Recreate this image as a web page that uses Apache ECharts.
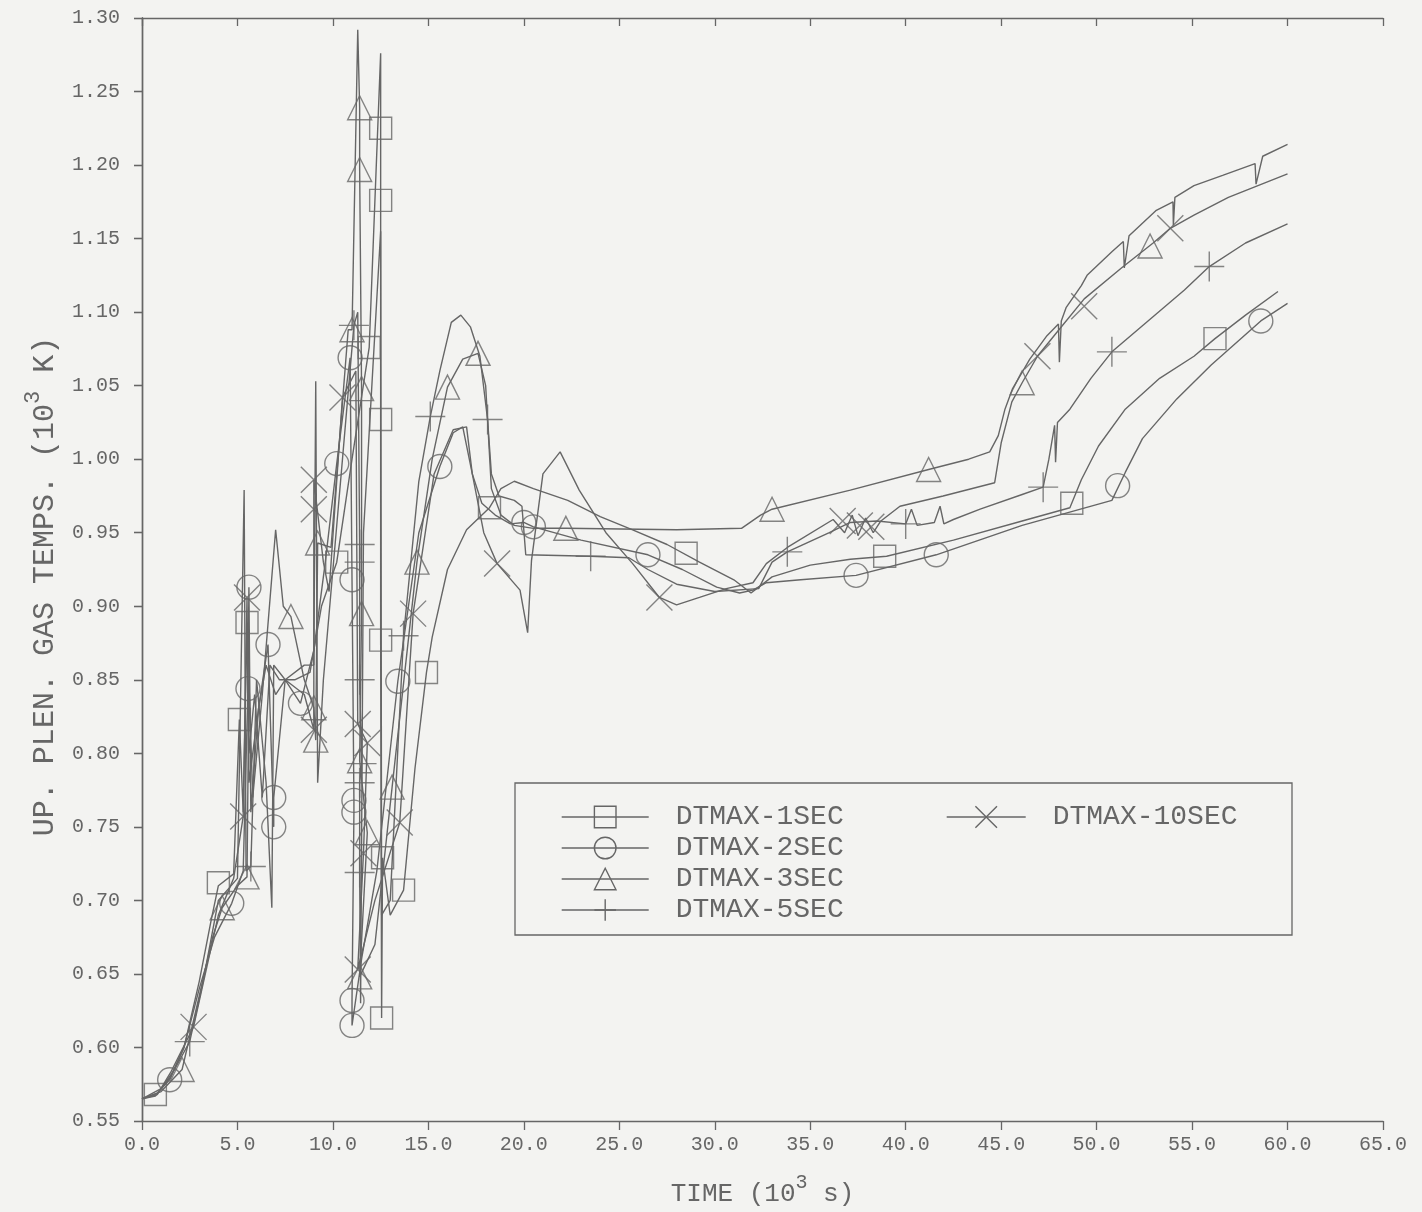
<!DOCTYPE html>
<html>
<head>
<meta charset="utf-8">
<script src="https://cdn.jsdelivr.net/npm/echarts@6/dist/echarts.min.js"></script>
<style>
  html, body { margin: 0; padding: 0; background: #f3f3f1; }
  #chart { width: 1422px; height: 1212px; }
</style>
</head>
<body>
<div id="chart"></div>
<script>
// Upper plenum gas temperature (10^3 K) versus time (10^3 s) for five DTMAX settings.
const seriesNames = ['DTMAX-1SEC', 'DTMAX-2SEC', 'DTMAX-3SEC', 'DTMAX-5SEC', 'DTMAX-10SEC'];

const xTicks = [0, 5, 10, 15, 20, 25, 30, 35, 40, 45, 50, 55, 60, 65];
const yTicks = [0.55, 0.60, 0.65, 0.70, 0.75, 0.80, 0.85, 0.90, 0.95, 1.00, 1.05, 1.10, 1.15, 1.20, 1.25, 1.30];

// DTMAX-1SEC
const line1s = [[0,0.565],[0.7,0.567],[1.5,0.58],[2.2,0.60],[3.0,0.645],[3.6,0.685],[4.0,0.71],[4.8,0.718],[5.1,0.823],[5.3,0.76],[5.5,0.889],[5.6,0.80],[5.9,0.84],[6.3,0.77],[6.7,0.86],[7.2,0.85],[8.0,0.85],[8.8,0.855],[9.4,0.90],[10.2,0.93],[11.0,1.0],[11.9,1.076],[12.5,1.276],[12.5,1.225],[12.5,1.176],[12.5,1.027],[12.5,0.877],[12.55,0.62],[12.6,0.729],[13.0,0.69],[13.7,0.707],[14.3,0.79],[14.9,0.855],[15.2,0.879],[16.0,0.925],[17.0,0.952],[18.2,0.967],[18.8,0.98],[19.5,0.985],[20.5,0.98],[22.3,0.972],[24,0.961],[25.7,0.952],[27.5,0.942],[29.2,0.93],[31,0.918],[31.9,0.909],[33,0.92],[35,0.928],[37.1,0.932],[39.0,0.934],[42.5,0.945],[46.1,0.958],[48.6,0.967],[49.2,0.986],[50.1,1.009],[51.5,1.034],[53.3,1.055],[55.1,1.07],[56.2,1.082],[57.8,1.098],[59.5,1.114]];
const marks1s = [[0.7,0.568],[4.0,0.712],[5.1,0.823],[5.5,0.889],[10.2,0.93],[11.9,1.076],[12.5,1.225],[12.5,1.176],[12.5,1.027],[12.5,0.877],[12.55,0.62],[12.6,0.729],[13.7,0.707],[14.9,0.855],[18.2,0.967],[28.5,0.936],[38.9,0.934],[48.7,0.970],[56.2,1.082]];

// DTMAX-2SEC
const line2s = [[0,0.565],[0.8,0.569],[1.45,0.578],[2.2,0.60],[3.0,0.64],[3.8,0.675],[4.7,0.698],[5.3,0.72],[5.55,0.844],[5.6,0.913],[5.7,0.76],[6.1,0.83],[6.6,0.874],[6.9,0.75],[6.9,0.77],[7.5,0.85],[8.3,0.834],[9.0,0.87],[9.6,0.93],[10.2,0.997],[10.9,1.069],[11.0,0.918],[11.1,0.768],[11.1,0.76],[11.0,0.632],[11.0,0.615],[11.5,0.66],[12.3,0.72],[13.4,0.849],[14.5,0.95],[15.6,0.995],[16.3,1.018],[16.8,1.022],[17.3,0.99],[17.8,0.97],[18.5,0.962],[19.3,0.956],[20.0,0.957],[20.5,0.954],[23,0.945],[26.5,0.935],[28.3,0.925],[30.1,0.913],[31.3,0.909],[32,0.911],[32.7,0.916],[34.5,0.918],[37.4,0.921],[41.6,0.935],[46.1,0.955],[50.8,0.972],[51.5,0.991],[52.4,1.014],[54.2,1.041],[56.0,1.064],[58.6,1.094],[60,1.106]];
const marks2s = [[1.45,0.578],[4.7,0.698],[5.55,0.844],[5.6,0.913],[6.6,0.874],[6.9,0.75],[6.9,0.77],[8.3,0.834],[10.2,0.997],[10.9,1.069],[11.0,0.918],[11.1,0.768],[11.1,0.76],[11.0,0.632],[11.0,0.615],[13.4,0.849],[15.6,0.995],[20.0,0.957],[20.5,0.954],[26.5,0.935],[37.4,0.921],[41.6,0.935],[51.1,0.982],[58.6,1.094]];

// DTMAX-3SEC
const line3s = [[0,0.565],[1.0,0.57],[2.1,0.585],[3.0,0.635],[3.7,0.675],[4.2,0.695],[5.0,0.71],[5.5,0.716],[5.6,0.85],[5.8,0.77],[6.3,0.84],[7.0,0.952],[7.4,0.90],[7.8,0.893],[8.5,0.85],[9.0,0.831],[9.1,0.809],[9.2,0.943],[9.9,0.94],[10.8,1.088],[11.0,1.088],[11.3,1.292],[11.4,1.239],[11.4,1.197],[11.5,1.048],[11.5,0.895],[11.4,0.795],[11.8,0.746],[11.4,0.648],[12.2,0.67],[13.1,0.777],[14.4,0.93],[15.2,1.0],[16.0,1.049],[16.8,1.068],[17.6,1.072],[18.0,1.05],[18.3,0.98],[18.8,0.962],[19.5,0.955],[20.5,0.953],[22.2,0.953],[28,0.952],[31.4,0.953],[32.4,0.962],[33,0.966],[37.1,0.979],[41.2,0.993],[43.3,1.0],[44.4,1.005],[44.85,1.016],[45.2,1.034],[45.6,1.048],[46.5,1.068],[47.4,1.084],[48.0,1.092],[48.05,1.066],[48.15,1.094],[48.4,1.103],[49.2,1.118],[49.5,1.125],[50.8,1.141],[51.4,1.148],[51.45,1.13],[51.7,1.152],[53.1,1.169],[54.0,1.175],[54.02,1.159],[54.1,1.178],[55.1,1.186],[56.6,1.193],[58.3,1.201],[58.35,1.187],[58.7,1.206],[60,1.214]];
const marks3s = [[2.1,0.585],[4.2,0.695],[5.5,0.716],[7.8,0.893],[9.0,0.831],[9.1,0.809],[9.2,0.943],[11.4,1.239],[11.4,1.197],[11.0,1.088],[11.5,1.048],[11.5,0.895],[11.4,0.795],[11.8,0.746],[11.4,0.648],[13.1,0.777],[14.4,0.93],[16.0,1.049],[17.6,1.072],[22.2,0.953],[33,0.966],[41.2,0.993],[46.1,1.052],[52.8,1.145]];

// DTMAX-5SEC
const line5s = [[0,0.565],[1.0,0.572],[1.7,0.585],[2.5,0.604],[3.2,0.645],[4.0,0.70],[5.0,0.715],[5.35,0.979],[5.45,0.72],[5.7,0.723],[6.0,0.85],[6.5,0.78],[6.8,0.695],[6.9,0.86],[7.5,0.85],[8.5,0.86],[9.0,0.86],[9.1,1.053],[9.2,0.78],[9.5,0.85],[10.5,1.0],[11.1,1.091],[11.3,1.10],[11.4,0.942],[11.4,0.93],[11.4,0.85],[11.5,0.793],[11.4,0.78],[11.4,0.719],[11.45,0.63],[11.6,0.95],[12.5,1.155],[12.55,0.69],[13.0,0.70],[13.7,0.88],[14.5,0.985],[15.1,1.029],[15.6,1.06],[16.2,1.093],[16.7,1.098],[17.2,1.09],[17.7,1.07],[18.1,1.027],[18.3,0.99],[18.7,0.975],[19.5,0.972],[19.9,0.968],[20.1,0.935],[23.5,0.934],[25.5,0.933],[26.5,0.925],[28,0.915],[30,0.91],[32.3,0.912],[33,0.93],[33.8,0.937],[36,0.95],[37.1,0.957],[38.5,0.958],[40,0.956],[40.3,0.966],[40.6,0.955],[41.5,0.957],[41.8,0.968],[42.0,0.956],[42.5,0.959],[43.9,0.966],[46.1,0.976],[47.2,0.981],[47.5,1.0],[47.8,1.023],[47.85,0.998],[47.95,1.025],[48.6,1.034],[49.7,1.055],[50.8,1.073],[52.6,1.093],[54.6,1.115],[55.9,1.131],[57.8,1.147],[60,1.16]];
const marks5s = [[2.5,0.604],[5.7,0.723],[11.1,1.091],[11.4,0.942],[11.4,0.93],[11.4,0.85],[11.5,0.793],[11.4,0.78],[11.4,0.719],[13.7,0.88],[15.1,1.029],[18.1,1.027],[23.5,0.934],[33.8,0.937],[40.0,0.956],[47.2,0.981],[50.8,1.073],[55.9,1.131]];

// DTMAX-10SEC
const line10s = [[0,0.565],[0.8,0.568],[1.5,0.583],[2.7,0.614],[3.4,0.655],[4.0,0.69],[4.8,0.715],[5.3,0.757],[5.5,0.906],[5.6,0.78],[6.1,0.83],[6.5,0.86],[7.0,0.84],[7.5,0.85],[8.5,0.84],[9.0,0.816],[9.0,0.966],[9.0,0.986],[9.5,0.93],[9.8,0.91],[10.5,1.042],[11.2,1.06],[11.3,0.82],[11.8,0.807],[11.6,0.732],[11.3,0.653],[12.2,0.70],[13.5,0.753],[14.2,0.895],[15.3,0.99],[16.3,1.02],[17.0,1.022],[17.3,0.99],[17.9,0.95],[18.6,0.929],[19.8,0.911],[20.2,0.882],[20.4,0.931],[21.0,0.99],[21.9,1.005],[22.9,0.979],[24.3,0.95],[25.7,0.929],[27.1,0.906],[28,0.901],[29.2,0.906],[30.6,0.912],[32,0.916],[32.7,0.929],[33.8,0.94],[36.2,0.959],[36.8,0.95],[37.2,0.962],[37.5,0.948],[37.9,0.96],[38.3,0.95],[38.7,0.958],[39.7,0.968],[41.96,0.975],[44.66,0.984],[45.0,1.011],[45.56,1.039],[46.1,1.052],[46.9,1.07],[47.9,1.086],[49.35,1.109],[51.3,1.13],[52.96,1.147],[53.86,1.157],[55.1,1.166],[56.9,1.178],[60,1.194]];
const marks10s = [[2.7,0.614],[5.3,0.757],[5.5,0.906],[9.0,0.816],[9.0,0.966],[9.0,0.986],[10.5,1.042],[11.3,0.82],[11.8,0.807],[11.6,0.732],[11.3,0.653],[13.5,0.753],[14.2,0.895],[18.6,0.929],[27.1,0.906],[36.7,0.958],[37.6,0.955],[38.2,0.954],[46.9,1.07],[49.35,1.104],[53.86,1.157]];

const INK = '#666666';
const FONT = 'Liberation Mono';

const PLUS = 'path://M10,0L10,20M0,10L20,10';
const CROSS = 'path://M0,0L20,20M0,20L20,0';

const seriesDefs = [
  { name: seriesNames[0], line: line1s, marks: marks1s, symbol: 'rect', size: 22 },
  { name: seriesNames[1], line: line2s, marks: marks2s, symbol: 'circle', size: 24 },
  { name: seriesNames[2], line: line3s, marks: marks3s, symbol: 'triangle', size: 24 },
  { name: seriesNames[3], line: line5s, marks: marks5s, symbol: PLUS, size: 30 },
  { name: seriesNames[4], line: line10s, marks: marks10s, symbol: CROSS, size: 26 }
];

const markerStyle = { color: 'transparent', borderColor: INK, borderWidth: 1.4 };

const series = [];
seriesDefs.forEach(function (d) {
  series.push({
    name: d.name,
    type: 'line',
    data: d.line,
    symbol: d.symbol,
    showSymbol: false,
    lineStyle: { color: INK, width: 1.4 },
    itemStyle: markerStyle,
    z: 2
  });
  series.push({
    name: d.name,
    type: 'scatter',
    data: d.marks,
    symbol: d.symbol,
    symbolSize: d.size,
    itemStyle: markerStyle,
    z: 3
  });
});

const axisLine = { lineStyle: { color: INK, width: 1.4 } };
const labelFont = { color: INK, fontFamily: FONT, fontSize: 20 };

const legendCommon = {
  orient: 'vertical',
  selectedMode: false,
  itemHeight: 27,
  itemGap: 3,
  textStyle: { color: INK, fontFamily: FONT, fontSize: 28, padding: [0, 0, 0, 22] },
  itemStyle: { color: 'transparent', borderColor: INK, borderWidth: 1.4 },
  lineStyle: { color: INK, width: 1.4 }
};

const chart = echarts.init(document.getElementById('chart'), null, { renderer: 'canvas' });
chart.setOption({
  animation: false,
  backgroundColor: '#f3f3f1',
  grid: { left: 142, right: 39, top: 18, bottom: 91 },
  xAxis: [
    {
      type: 'value', position: 'bottom', min: xTicks[0], max: xTicks[xTicks.length - 1], interval: 5,
      axisLine: axisLine,
      axisTick: { inside: false, length: 9, lineStyle: { color: INK, width: 1.3 } },
      splitLine: { show: false },
      axisLabel: Object.assign({ margin: 14, formatter: function (v) { return v.toFixed(1); } }, labelFont),
      name: '{a|TIME (10}{s|3}{a| s)}',
      nameLocation: 'middle',
      nameGap: 52,
      nameTextStyle: {
        rich: {
          a: { fontFamily: FONT, fontSize: 26, color: INK, lineHeight: 34, verticalAlign: 'bottom' },
          s: { fontFamily: FONT, fontSize: 20, color: INK, lineHeight: 34, verticalAlign: 'top' }
        }
      }
    },
    {
      type: 'value', position: 'top', min: xTicks[0], max: xTicks[xTicks.length - 1], interval: 5,
      axisLine: axisLine,
      axisTick: { inside: true, length: 8, lineStyle: { color: INK, width: 1.3 } },
      splitLine: { show: false },
      axisLabel: { show: false }
    }
  ],
  yAxis: [
    {
      type: 'value', position: 'left', min: yTicks[0], max: yTicks[yTicks.length - 1], interval: 0.05,
      axisLine: axisLine,
      axisTick: { inside: false, length: 8, lineStyle: { color: INK, width: 1.3 } },
      splitLine: { show: false },
      axisLabel: Object.assign({ margin: 22, formatter: function (v) { return v.toFixed(2); } }, labelFont),
      name: '{a|UP. PLEN. GAS TEMPS. (10}{s|3}{a| K)}',
      nameLocation: 'middle',
      nameGap: 82,
      nameTextStyle: {
        padding: [0, 34, 0, 0],
        rich: {
          a: { fontFamily: FONT, fontSize: 30, color: INK, lineHeight: 38, verticalAlign: 'bottom' },
          s: { fontFamily: FONT, fontSize: 22, color: INK, lineHeight: 38, verticalAlign: 'top' }
        }
      }
    },
    {
      type: 'value', position: 'right', min: yTicks[0], max: yTicks[yTicks.length - 1], interval: 0.05,
      axisLine: axisLine,
      axisTick: { inside: true, length: 8, lineStyle: { color: INK, width: 1.3 } },
      splitLine: { show: false },
      axisLabel: { show: false }
    }
  ],
  legend: [
    Object.assign({}, legendCommon, { left: 556, top: 798, itemWidth: 87, data: seriesNames.slice(0, 4) }),
    Object.assign({}, legendCommon, { left: 941, top: 798, itemWidth: 79, data: seriesNames.slice(4) })
  ],
  graphic: [
    {
      type: 'rect',
      shape: { x: 515, y: 783, width: 777, height: 152 },
      style: { fill: 'transparent', stroke: INK, lineWidth: 1.3 },
      z: 10
    }
  ],
  series: series
});
</script>
</body>
</html>
